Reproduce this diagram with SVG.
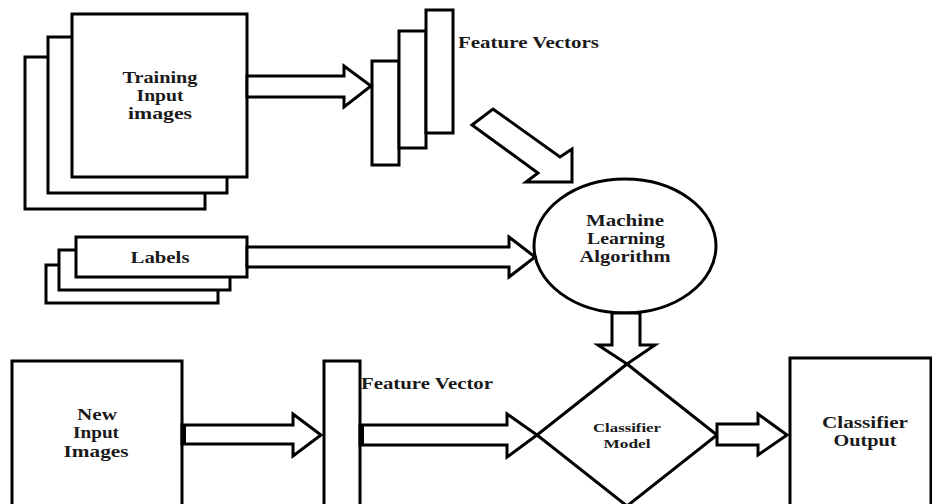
<svg xmlns="http://www.w3.org/2000/svg" width="932" height="504" viewBox="0 0 932 504">
<style>
.b{fill:#fff;stroke:#000;stroke-width:3}
.a{fill:#fff;stroke:#000;stroke-width:3;stroke-linejoin:miter}
.t{font-family:"Liberation Serif","Times New Roman",serif;font-weight:bold;fill:#1a1a1a;text-anchor:middle}
.tl{font-family:"Liberation Serif","Times New Roman",serif;font-weight:bold;fill:#1a1a1a}
</style>
<rect width="932" height="504" fill="#fff"/>
<g id="training">
<rect class="b" x="25" y="57" width="180" height="152"/>
<rect class="b" x="48" y="37" width="179" height="156"/>
<rect class="b" x="72" y="14" width="175" height="163"/>
<text class="t" x="160" y="83" font-size="16" textLength="75" lengthAdjust="spacingAndGlyphs">Training</text>
<text class="t" x="160" y="101" font-size="16" textLength="47" lengthAdjust="spacingAndGlyphs">Input</text>
<text class="t" x="160" y="119" font-size="16" textLength="64" lengthAdjust="spacingAndGlyphs">images</text>
</g>
<g id="featureVectors">
<rect class="b" x="372" y="61" width="27" height="104"/>
<rect class="b" x="399" y="31" width="27" height="117"/>
<rect class="b" x="426" y="10" width="27" height="123"/>
<text class="tl" x="458" y="48" font-size="16" textLength="141" lengthAdjust="spacingAndGlyphs">Feature Vectors</text>
</g>
<g id="labels">
<rect class="b" x="46" y="265" width="172" height="38"/>
<rect class="b" x="59" y="250" width="171" height="40"/>
<rect class="b" x="76" y="237" width="171" height="40"/>
<text class="t" x="160" y="263" font-size="16" textLength="59" lengthAdjust="spacingAndGlyphs">Labels</text>
</g>
<g id="mlAlgorithm">
<ellipse class="b" cx="625" cy="246" rx="91" ry="67"/>
<text class="t" x="625" y="226" font-size="16" textLength="78" lengthAdjust="spacingAndGlyphs">Machine</text>
<text class="t" x="626" y="244" font-size="16" textLength="78" lengthAdjust="spacingAndGlyphs">Learning</text>
<text class="t" x="625" y="262" font-size="16" textLength="91" lengthAdjust="spacingAndGlyphs">Algorithm</text>
</g>
<g id="classifierModel">
<polygon class="b" points="627,364 717,435 627,506 537,435"/>
<text class="t" x="627" y="432" font-size="13" textLength="68" lengthAdjust="spacingAndGlyphs">Classifier</text>
<text class="t" x="627" y="448" font-size="13" textLength="47" lengthAdjust="spacingAndGlyphs">Model</text>
</g>
<g id="newInput">
<rect class="b" x="12" y="361" width="170" height="150"/>
<text class="t" x="97" y="420" font-size="16" textLength="40" lengthAdjust="spacingAndGlyphs">New</text>
<text class="t" x="96" y="438" font-size="16" textLength="46" lengthAdjust="spacingAndGlyphs">Input</text>
<text class="t" x="96" y="457" font-size="16" textLength="65" lengthAdjust="spacingAndGlyphs">Images</text>
</g>
<g id="featureVector">
<rect class="b" x="324" y="361" width="36" height="150"/>
<text class="tl" x="361" y="389" font-size="16" textLength="132" lengthAdjust="spacingAndGlyphs">Feature Vector</text>
</g>
<g id="classifierOutput">
<rect class="b" x="790" y="358" width="141" height="153"/>
<text class="t" x="865" y="428" font-size="16" textLength="86" lengthAdjust="spacingAndGlyphs">Classifier</text>
<text class="t" x="865" y="446" font-size="16" textLength="63" lengthAdjust="spacingAndGlyphs">Output</text>
</g>
<g id="connectors">
<polygon class="a" points="247,76 344,76 344,66 371,86 344,107 344,97 247,97"/>
<polygon class="a" points="472,125 493,109 560,157 572,149 572,182 526,182 538,173"/>
<polygon class="a" points="247,247 509,247 509,237 535,257 509,277 509,267 247,267"/>
<polygon class="a" points="612,313 640,313 640,345 655,345 627,364 598,345 612,345"/>
<polygon class="a" points="182,425 293,425 293,414 321,435 293,456 293,444 182,444"/>
<rect x="182" y="425" width="4" height="19" fill="#000"/>
<polygon class="a" points="360,425 507,425 507,414 537,435 507,457 507,445 360,445"/>
<rect x="360" y="425" width="4" height="20" fill="#000"/>
<polygon class="a" points="717,424 758,424 758,414 787,435 758,455 758,445 717,445"/>
</g>
</svg>
